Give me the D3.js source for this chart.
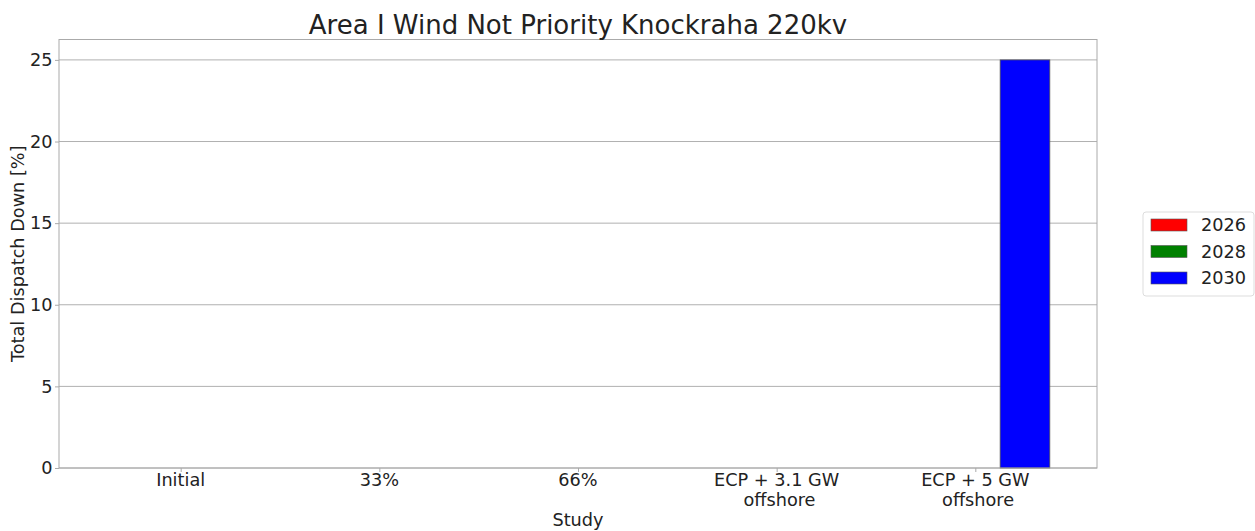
<!DOCTYPE html>
<html><head><meta charset="utf-8">
<script src="https://cdn.jsdelivr.net/npm/d3@7"></script>
<style>body{margin:0;background:#fff;} text{font-family:"DejaVu Sans",sans-serif;fill:#222;white-space:pre;}</style>
</head><body><svg id="c" width="1255" height="531"></svg>
<script>
const categories = ["Initial", "33%", "66%", "ECP + 3.1 GW\n offshore", "ECP + 5 GW\n offshore"];
const seriesNames = ["2026", "2028", "2030"];
const seriesColors = ["#ff0000", "#008000", "#0000ff"];
const values2026 = [0, 0, 0, 0, 0];
const values2028 = [0, 0, 0, 0, 0];
const values2030 = [0, 0, 0, 0, 25];
const yTicks = [0, 5, 10, 15, 20, 25];
const title = "Area I Wind Not Priority Knockraha 220kv";
const xLabel = "Study";
const yLabel = "Total Dispatch Down [%]";

const series = [values2026, values2028, values2030];
const svg = d3.select("#c");
const L = 59, R = 1097, T = 39.5, B = 468;
const FS = 17.7;
const x = d3.scaleLinear().domain([-0.6125, 4.6125]).range([L, R]);
const y = d3.scaleLinear().domain([0, 26.25]).range([B, T]);
const bw = 0.25;

// grid
svg.append("g").selectAll("line").data(yTicks).join("line")
  .attr("x1", L).attr("x2", R).attr("y1", d => y(d)).attr("y2", d => y(d))
  .attr("stroke", "#b0b0b0").attr("stroke-width", 1);

// bars
series.forEach((vals, si) => {
  svg.append("g").selectAll("rect").data(vals).join("rect")
    .attr("x", (d, i) => x(i + (si - 1) * bw - bw / 2))
    .attr("width", x(bw) - x(0))
    .attr("y", d => y(d))
    .attr("height", d => y(0) - y(d))
    .attr("fill", seriesColors[si])
    .attr("stroke", d => d > 0 ? "#555" : "none").attr("stroke-width", 0.8);
});

// frame
svg.append("rect").attr("x", L).attr("y", T).attr("width", R - L).attr("height", B - T)
  .attr("fill", "none").attr("stroke", "#aaa").attr("stroke-width", 1);

// y axis
const ya = svg.append("g").attr("transform", `translate(${L},0)`)
  .call(d3.axisLeft(y).tickValues(yTicks).tickSize(4).tickPadding(2.5).tickFormat(d3.format("d")));
ya.select(".domain").remove();
ya.selectAll("line").attr("stroke", "#aaa");
ya.selectAll("text").attr("font-size", FS).attr("fill", "#222").attr("font-family", "DejaVu Sans");

// x axis
const xa = svg.append("g").attr("transform", `translate(0,${B})`)
  .call(d3.axisBottom(x).tickValues(d3.range(categories.length)).tickSize(4).tickFormat(""));
xa.select(".domain").remove();
xa.selectAll("line").attr("stroke", "#aaa");
categories.forEach((c, i) => {
  const t = svg.append("text").attr("x", x(i)).attr("y", B + 18).attr("text-anchor", "middle")
    .attr("font-size", FS);
  c.split("\n").forEach((ln, k) => t.append("tspan").attr("x", x(i)).attr("dy", k ? 20 : 0).text(ln));
});

// labels
svg.append("text").attr("x", (L + R) / 2).attr("y", 34).attr("text-anchor", "middle").attr("font-size", 26).text(title);
svg.append("text").attr("x", (L + R) / 2).attr("y", 526).attr("text-anchor", "middle").attr("font-size", FS).text(xLabel);
svg.append("text").attr("transform", `translate(24,${(T + B) / 2}) rotate(-90)`).attr("text-anchor", "middle").attr("font-size", FS).text(yLabel);

// legend
const lg = svg.append("g");
lg.append("rect").attr("x", 1143).attr("y", 212).attr("width", 111).attr("height", 84).attr("rx", 3)
  .attr("fill", "#fff").attr("stroke", "#ddd");
seriesNames.forEach((n, i) => {
  const yy = 225 + i * 26.5;
  lg.append("rect").attr("x", 1151).attr("y", yy - 6).attr("width", 36).attr("height", 12)
    .attr("fill", seriesColors[i]).attr("stroke", "#555").attr("stroke-width", 0.6);
  lg.append("text").attr("x", 1201).attr("y", yy + 6).attr("font-size", FS).text(n);
});
</script></body></html>
